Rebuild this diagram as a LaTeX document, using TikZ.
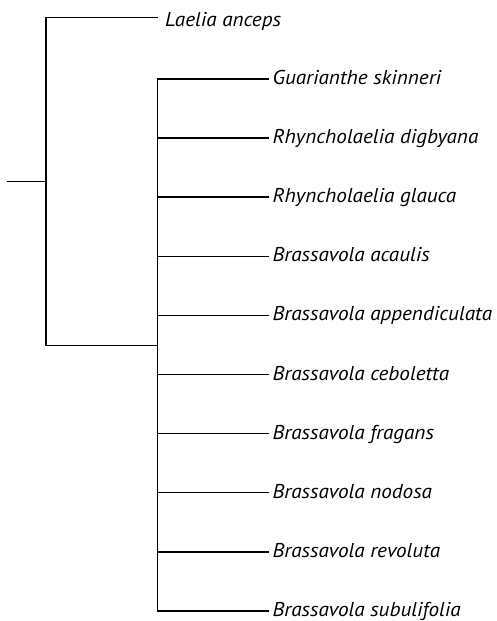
\documentclass[tikz,border=0pt]{standalone}
\usepackage{fontspec}
\newfontfamily\taxfont[FakeStretch=1.06]{PT Sans}
\begin{document}
\begin{tikzpicture}[x=1pt,y=-1pt,
  branch/.style={line width=1.5pt, line cap=rect},
  taxon/.style={anchor=base west, inner sep=0pt, font=\taxfont\itshape\fontsize{20}{24}\selectfont}]
\useasboundingbox (0,0) rectangle (497,621);
\fill[white] (0,0) rectangle (497,621);
% internal points
\coordinate (root) at (8,181.7);
\coordinate (n1) at (46,181.7);
\coordinate (n2) at (157.5,345.5);
% Laelia
\coordinate (t0) at (157,17.3);
\node[taxon] (l0) at (165,26) {Laelia anceps};
% leaves of inner clade
\foreach \i/\name in {1/Guarianthe skinneri,2/Rhyncholaelia digbyana,3/Rhyncholaelia glauca,4/Brassavola acaulis,5/Brassavola appendiculata,6/Brassavola ceboletta,7/Brassavola fragans,8/Brassavola nodosa,9/Brassavola revoluta,10/Brassavola subulifolia}{
  \pgfmathsetmacro{\yy}{79+(\i-1)*59.1}
  \coordinate (t\i) at (268,\yy);
  \node[taxon] (l\i) at (272.5,\yy+5.5) {\name};
  \draw[branch] (n2 |- t\i) -- (t\i);
}
\draw[branch] (root) -- (n1);
\draw[branch] (n1 |- t0) -- (t0);
\draw[branch] (n1 |- t0) -- (n1 |- n2) -- (n2);
\draw[branch] (n2 |- t1) -- (n2 |- t10);
\end{tikzpicture}
\end{document}
